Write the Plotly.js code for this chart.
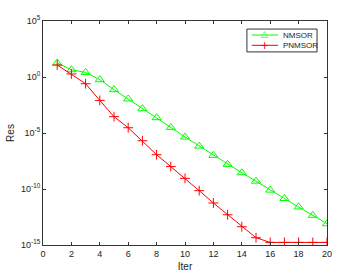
<!DOCTYPE html>
<html>
<head>
<meta charset="utf-8">
<script src="https://cdn.plot.ly/plotly-3.0.1.min.js"></script>
<style>html,body{margin:0;padding:0;background:#fff;}#chart{width:351px;height:275px;}</style>
</head>
<body>
<div id="chart"></div>
<script>
const iters = [1,2,3,4,5,6,7,8,9,10,11,12,13,14,15,16,17,18,19,20];
const nmsorLog = [1.25,0.65,0.41,-0.24,-1.13,-1.96,-2.83,-3.63,-4.5,-5.36,-6.17,-7.0,-7.8,-8.55,-9.3,-10.1,-10.85,-11.6,-12.35,-13.1];
const pnmsorLog = [1.07,0.27,-0.6,-2.09,-3.54,-4.53,-5.69,-6.94,-8.0,-9.05,-10.15,-11.25,-12.3,-13.37,-14.35,-14.77,-14.77,-14.77,-14.77,-14.77];
const seriesNames = ['NMSOR','PNMSOR'];
const seriesColors = ['#00ff00','#ff0000'];
const legendGlyphs = ['\u25B3','+'];
const yTickVals = [1e-15,1e-10,1e-5,1,1e5];
const yTickText = ['10<sup>-15</sup>','10<sup>-10</sup>','10<sup>-5</sup>','10<sup>0</sup>','10<sup>5</sup>'];
const xTickVals = [0,2,4,6,8,10,12,14,16,18,20];

const nmsor = nmsorLog.map(v => Math.pow(10, v));
const pnmsor = pnmsorLog.map(v => Math.pow(10, v));

const fontFam = 'Liberation Sans, Arial, sans-serif';
const traces = [
  {x: iters, y: nmsor, name: seriesNames[0], mode: 'lines+markers',
   line: {color: seriesColors[0], width: 1},
   marker: {symbol: 'triangle-up-open', size: 8, color: seriesColors[0], line: {width: 1, color: seriesColors[0]}}},
  {x: iters, y: pnmsor, name: seriesNames[1], mode: 'lines+markers',
   line: {color: seriesColors[1], width: 1},
   marker: {symbol: 'cross-thin-open', size: 7, color: seriesColors[1], line: {width: 1, color: seriesColors[1]}}}
];

// custom compact legend (MATLAB style)
const legBox = {x0: 0.718, x1: 0.965, y0: 0.862, y1: 0.964};
const rowY = [0.9375, 0.8915];
const lineX = [0.735, 0.828];
const shapes = [
  {type: 'rect', xref: 'paper', yref: 'paper', x0: legBox.x0, x1: legBox.x1, y0: legBox.y0, y1: legBox.y1,
   line: {color: '#333', width: 1}, fillcolor: '#fff', layer: 'above'}
];
const annotations = [];
seriesNames.forEach((name, i) => {
  shapes.push({type: 'line', xref: 'paper', yref: 'paper', x0: lineX[0], x1: lineX[1], y0: rowY[i], y1: rowY[i],
    line: {color: seriesColors[i], width: 1}, layer: 'above'});
  annotations.push({xref: 'paper', yref: 'paper', x: (lineX[0] + lineX[1]) / 2, y: rowY[i] + (i === 0 ? 0.006 : 0),
    text: legendGlyphs[i], showarrow: false, xanchor: 'center', yanchor: 'middle',
    font: {family: 'DejaVu Sans, sans-serif', size: i === 0 ? 9 : 11, color: seriesColors[i]}});
  annotations.push({xref: 'paper', yref: 'paper', x: 0.838, y: rowY[i], text: name, showarrow: false,
    xanchor: 'left', yanchor: 'middle', font: {family: fontFam, size: 8, color: '#222'}});
});

const axisCommon = {
  showgrid: false, zeroline: false, showline: true, linecolor: '#333', linewidth: 1,
  mirror: 'ticks', ticks: 'inside', ticklen: 3, tickcolor: '#333',
  tickfont: {family: fontFam, size: 9, color: '#222'}
};
const layout = {
  width: 351, height: 275,
  margin: {l: 43, r: 24, t: 21, b: 30},
  paper_bgcolor: '#fff', plot_bgcolor: '#fff',
  showlegend: false,
  shapes: shapes,
  annotations: annotations,
  xaxis: Object.assign({}, axisCommon, {range: [0, 20], tickvals: xTickVals,
    title: {text: 'Iter', font: {family: fontFam, size: 10, color: '#222'}, standoff: 5}}),
  yaxis: Object.assign({}, axisCommon, {type: 'log', range: [-15, 5], tickvals: yTickVals, ticktext: yTickText,
    title: {text: 'Res', font: {family: fontFam, size: 10, color: '#222'}, standoff: 4}})
};
Plotly.newPlot('chart', traces, layout, {displayModeBar: false, staticPlot: true});
</script>
</body>
</html>
